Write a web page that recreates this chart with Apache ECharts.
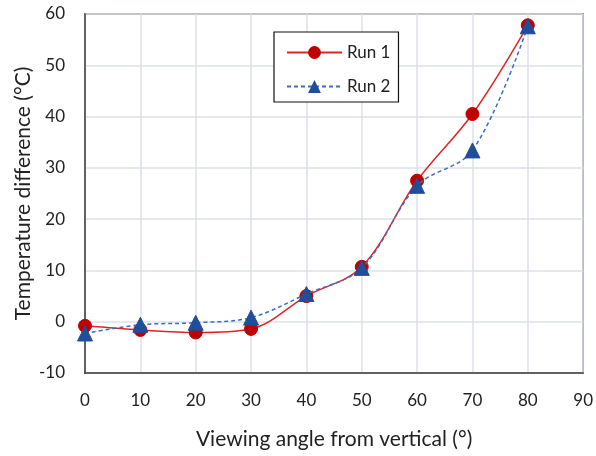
<!DOCTYPE html>
<html><head><meta charset="utf-8">
<script src="https://cdn.jsdelivr.net/npm/echarts@6/dist/echarts.min.js"></script>
<style>html,body{margin:0;padding:0;background:#fff}#c{width:596px;height:456px}</style>
</head><body><div id="c"></div>
<script>
var angles = [0, 10, 20, 30, 40, 50, 60, 70, 80];
var run1 = [-0.8, -1.6, -2.1, -1.4, 5.0, 10.7, 27.5, 40.5, 57.8];
var run2 = [-2.3, -0.6, -0.2, 0.8, 5.4, 10.5, 26.5, 33.4, 57.6];
var seriesNames = ['Run 1', 'Run 2'];
var xTitle = 'Viewing angle from vertical (°)';
var yTitle = 'Temperature difference (°C)';

function pairs(xs, ys) { return xs.map(function (x, i) { return [x, ys[i]]; }); }

var FONT = 'Lato';
var chart = echarts.init(document.getElementById('c'), null, { renderer: 'canvas' });
chart.setOption({
  animation: false,
  backgroundColor: '#fff',
  textStyle: { fontFamily: FONT },
  grid: { left: 85, right: 10, top: 14, bottom: 83, show: true, borderColor: '#404040', borderWidth: 1.5, backgroundColor: 'transparent' },
  legend: {
    left: 274, top: 32, orient: 'vertical',
    padding: [12, 8, 7, 12], itemGap: 17, itemWidth: 55, itemHeight: 16,
    borderColor: '#111', borderWidth: 1.2, backgroundColor: '#fff',
    textStyle: { fontFamily: FONT, fontSize: 17, color: '#222' },
    data: seriesNames
  },
  xAxis: {
    type: 'value', min: 0, max: 90, interval: 10,
    name: xTitle, nameLocation: 'middle', nameGap: 56, nameMoveOverlap: false,
    nameTextStyle: { fontFamily: FONT, fontSize: 21, color: '#222' },
    axisLine: { show: true, onZero: false, lineStyle: { color: '#404040', width: 1.5 } },
    axisTick: { show: false },
    axisLabel: { fontFamily: FONT, fontSize: 17, color: '#222', margin: 19 },
    splitLine: { show: true, lineStyle: { color: '#dde1ea', width: 1.5 } }
  },
  yAxis: {
    type: 'value', min: -10, max: 60, interval: 10,
    name: yTitle, nameLocation: 'middle', nameGap: 51, nameRotate: 90, nameMoveOverlap: false,
    nameTextStyle: { fontFamily: FONT, fontSize: 21, color: '#222' },
    axisLine: { show: true, onZero: false, lineStyle: { color: '#404040', width: 1.5 } },
    axisTick: { show: false },
    axisLabel: { fontFamily: FONT, fontSize: 17, color: '#222', margin: 20 },
    splitLine: { show: true, lineStyle: { color: '#dde1ea', width: 1.5 } }
  },
  series: [
    {
      name: seriesNames[0], type: 'line', data: pairs(angles, run1), smooth: 0.35,
      symbol: 'circle', symbolSize: 13,
      lineStyle: { color: '#e02424', width: 1.5 },
      itemStyle: { color: '#c00000', borderColor: '#c00000' },
      z: 3
    },
    {
      name: seriesNames[1], type: 'line', data: pairs(angles, run2), smooth: 0.35,
      symbol: 'triangle', symbolSize: 15,
      lineStyle: { color: '#3a6cc0', width: 1.5, type: [4, 3] },
      itemStyle: { color: '#1f4e9a', borderColor: '#1f4e9a' },
      z: 4
    }
  ]
});
</script></body></html>
